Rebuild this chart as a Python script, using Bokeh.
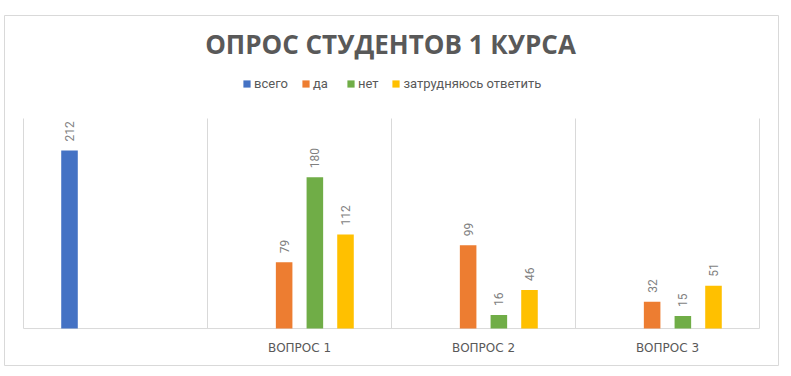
import math
from bokeh.plotting import figure
from bokeh.models import (FactorRange, Range1d, ColumnDataSource, Label,
                          Legend, LegendItem)
from bokeh.transform import dodge
from bokeh.core.properties import value
from bokeh.embed import file_html
from bokeh.resources import INLINE

title_text = "ОПРОС СТУДЕНТОВ 1 КУРСА"
categories = ["", "ВОПРОС 1", "ВОПРОС 2", "ВОПРОС 3"]
series_names = ["всего", "да", "нет", "затрудняюсь ответить"]
vsego = [212, None, None, None]
da = [None, 79, 99, 32]
net = [None, 180, 16, 15]
zatr = [None, 112, 46, 51]
colors = ["#4472C4", "#ED7D31", "#70AD47", "#FFC000"]
offsets = [-0.25, -0.0835, 0.0835, 0.25]
y_axis_max = 250

GRID = "#d9d9d9"

p = figure(x_range=FactorRange(factors=categories, range_padding=0.1033,
                               range_padding_units="absolute"),
           y_range=Range1d(-44.0, 372.6),
           width=782, height=370, output_backend="svg", toolbar_location=None,
           min_border_left=4, min_border_right=4, min_border_top=15,
           min_border_bottom=5)
p.outline_line_color = GRID
p.xaxis.visible = False
p.yaxis.visible = False
p.xgrid.grid_line_color = None
p.ygrid.grid_line_color = None

# category separators (Excel-style vertical gridlines) and baseline
cat_src = ColumnDataSource(dict(cat=categories, y0=[0] * len(categories),
                                y1=[y_axis_max] * len(categories)))
p.segment(x0=dodge("cat", -0.5, range=p.x_range), y0="y0",
          x1=dodge("cat", -0.5, range=p.x_range), y1="y1",
          source=cat_src, line_color=GRID, line_width=1)
end_src = ColumnDataSource(dict(first=[categories[0]], last=[categories[-1]],
                                y0=[0], y1=[y_axis_max]))
p.segment(x0=dodge("last", 0.5, range=p.x_range), y0="y0",
          x1=dodge("last", 0.5, range=p.x_range), y1="y1",
          source=end_src, line_color=GRID, line_width=1)
p.segment(x0=dodge("first", -0.5, range=p.x_range), y0="y0",
          x1=dodge("last", 0.5, range=p.x_range), y1="y0",
          source=end_src, line_color=GRID, line_width=1)

# category labels
p.text(x="cat", y="y0", text="cat", source=cat_src, y_offset=19,
       text_align="center", text_baseline="middle",
       text_font=value("DejaVu Sans"), text_font_size="12px",
       text_color="#595959")

items = []
for name, vals, col, off in zip(series_names, [vsego, da, net, zatr], colors, offsets):
    xs = [c for c, v in zip(categories, vals) if v is not None]
    ys = [v for v in vals if v is not None]
    src = ColumnDataSource(dict(cat=xs, val=ys, lbl=[str(v) for v in ys]))
    r = p.vbar(x=dodge("cat", off, range=p.x_range), top="val", width=0.09,
               source=src, fill_color=col, line_color=None)
    p.text(x=dodge("cat", off, range=p.x_range), y="val", text="lbl", source=src,
           angle=math.pi / 2, text_align="left", text_baseline="middle",
           y_offset=-9, text_font=value("Roboto"), text_font_size="12px",
           text_color="#7f7f7f")
    items.append(LegendItem(label=name, renderers=[r]))

legend = Legend(items=items, orientation="horizontal", location=(238, 274),
                glyph_width=9, glyph_height=9, label_standoff=3, spacing=13,
                padding=0, margin=0, border_line_color=None,
                background_fill_alpha=0, label_text_font="Roboto",
                label_text_font_size="13px", label_text_color="#595959",
                label_height=12)
p.add_layout(legend, "center")

p.add_layout(Label(x=386, y=322, x_units="screen", y_units="screen", text=title_text,
                   text_align="center", text_baseline="middle",
                   text_font="Open Sans", text_font_style="bold",
                   text_font_size="26px", text_color="#595959"))

open("out.html", "w").write(file_html(p, INLINE))
